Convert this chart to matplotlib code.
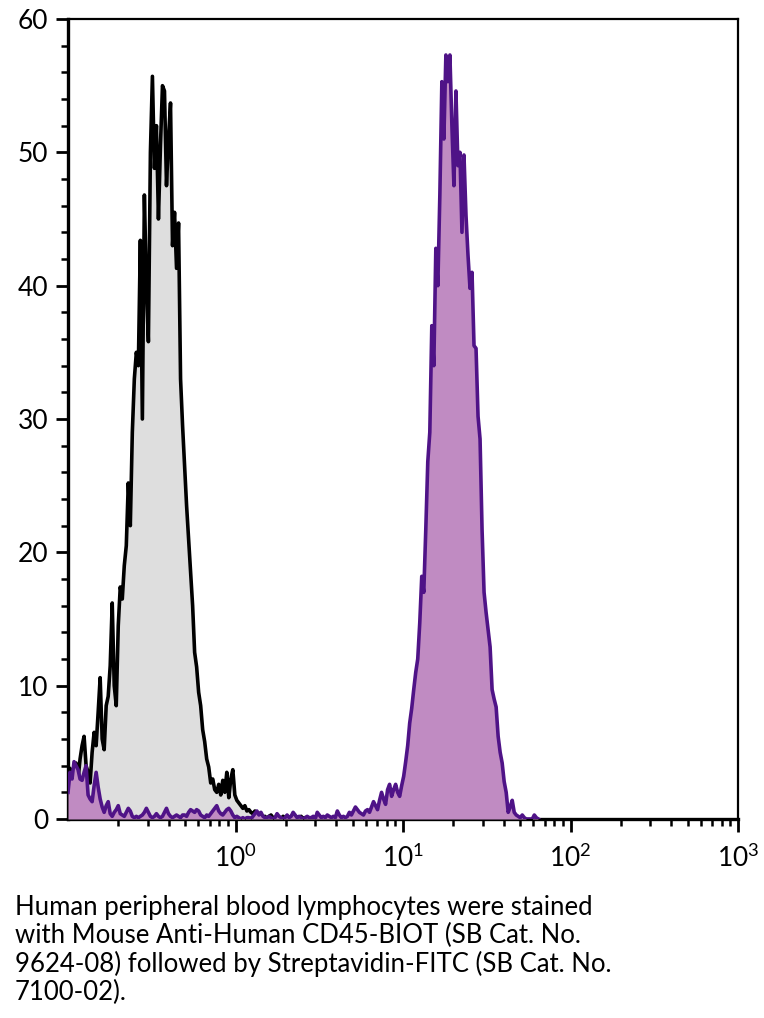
import numpy as np
import matplotlib
matplotlib.use('Agg')
import matplotlib.pyplot as plt
from matplotlib.ticker import FixedLocator, NullFormatter

plt.rcParams['font.family'] = ['Lato', 'DejaVu Sans']
plt.rcParams['mathtext.fontset'] = 'custom'
plt.rcParams['mathtext.rm'] = 'Lato'
plt.rcParams['mathtext.it'] = 'Lato'

# histogram channels: log10 position of first channel and channel width (decades)
log_start = -1.0
log_step = 0.012

# isotype control (black outline, grey fill)
control_counts = [
    3.0, 3.8, 2.5, 3.5, 4.2, 3.0, 4.5, 5.5, 6.2, 4.0,
    3.5, 2.7, 5.0, 6.5, 5.5, 8.0, 10.6, 6.0, 5.2, 8.5,
    9.2, 11.5, 16.2, 10.0, 8.5, 14.5, 17.4, 16.5, 19.0, 20.5,
    25.2, 22.0, 29.0, 33.0, 35.0, 34.0, 43.4, 30.0, 46.8, 40.0,
    35.8, 50.0, 55.7, 48.8, 52.0, 45.0, 50.5, 55.0, 54.6, 47.5,
    51.0, 53.7, 43.0, 45.5, 41.3, 44.7, 33.0, 29.5, 26.5, 23.5,
    21.0, 18.5, 16.0, 12.5, 11.4, 9.5, 8.5, 6.7, 5.8, 4.5,
    3.9, 2.7, 3.0, 2.2, 2.0, 2.6, 1.8, 2.9, 2.0, 3.5,
    1.6, 3.0, 3.7, 1.8, 1.4, 1.2, 1.0, 0.8, 1.0, 0.6,
    0.7, 0.5, 0.4, 0.6, 0.2, 0.4, 0.3, 0.1, 0.2, 0.0,
    0.2, 0.3, 0.1, 0.0, 0.3, 0.1, 0.0, 0.2, 0.1, 0.0,
    0.1, 0.2, 0.0, 0.1, 0.0, 0.1, 0.2, 0.0, 0.1, 0.0,
    0.0, 0.0,
]

# CD45 stained (purple)
cd45_counts = [
    2.0, 3.5, 3.0, 4.3, 4.0, 3.7, 3.0, 2.9, 3.5, 4.0,
    1.8, 1.5, 1.3, 2.5, 3.5, 2.4, 1.5, 0.9, 0.5, 1.0,
    1.3, 0.4, 0.2, 0.5, 0.7, 1.0, 0.4, 0.3, 0.2, 0.5,
    0.8, 0.6, 0.2, 0.1, 0.2, 0.1, 0.2, 0.3, 0.5, 0.8,
    0.5, 0.2, 0.1, 0.2, 0.4, 0.2, 0.1, 0.2, 0.5, 0.8,
    0.4, 0.2, 0.1, 0.2, 0.3, 0.2, 0.1, 0.3, 0.3, 0.2,
    0.5, 0.7, 0.6, 0.5, 0.7, 0.6, 0.3, 0.2, 0.1, 0.3,
    0.2, 0.4, 0.6, 0.8, 1.0, 0.6, 0.4, 0.3, 0.5, 0.7,
    0.8, 0.6, 0.3, 0.1, 0.2, 0.1, 0.0, 0.1, 0.0, 0.1,
    0.1, 0.0, 0.2, 0.4, 0.6, 0.3, 0.5, 0.2, 0.1, 0.1,
    0.2, 0.1, 0.0, 0.1, 0.4, 0.2, 0.1, 0.0, 0.1, 0.3,
    0.1, 0.2, 0.5, 0.3, 0.1, 0.2, 0.1, 0.0, 0.1, 0.2,
    0.1, 0.1, 0.2, 0.0, 0.5, 0.3, 0.1, 0.2, 0.1, 0.3,
    0.2, 0.1, 0.2, 0.1, 0.6, 0.3, 0.1, 0.2, 0.1, 0.2,
    0.5, 0.3, 0.6, 0.9, 0.7, 0.5, 0.4, 0.3, 0.6, 0.7,
    0.5, 0.9, 1.3, 1.0, 0.7, 1.4, 2.0, 1.5, 1.1, 2.2,
    2.6, 1.7, 2.2, 2.6, 2.0, 1.7, 2.5, 3.2, 4.3, 5.5,
    7.2, 8.3, 9.7, 11.0, 12.0, 14.7, 18.2, 17.0, 21.7, 26.8,
    29.0, 37.0, 34.0, 42.8, 40.0, 46.8, 55.3, 51.0, 57.3, 55.3,
    57.3, 52.0, 47.5, 54.6, 49.0, 50.0, 44.0, 49.8, 45.3, 42.3,
    39.8, 41.0, 35.5, 35.3, 30.2, 28.5, 21.7, 17.0, 15.5, 14.2,
    12.9, 9.7, 9.0, 8.4, 6.2, 5.0, 4.2, 2.8, 2.0, 0.5,
    0.9, 1.4, 0.5, 0.3, 0.2, 0.1, 0.3, 0.1, 0.0, 0.0,
    0.0, 0.0, 0.3, 0.1, 0.0,
]

caption = ("Human peripheral blood lymphocytes were stained\n"
           "with Mouse Anti-Human CD45-BIOT (SB Cat. No.\n"
           "9624-08) followed by Streptavidin-FITC (SB Cat. No.\n"
           "7100-02).")

x_ctrl = 10 ** (log_start + log_step * np.arange(len(control_counts)))
x_cd45 = 10 ** (log_start + log_step * np.arange(len(cd45_counts)))

fig = plt.figure(figsize=(7.64, 10.18), dpi=100)
ax = fig.add_axes([68 / 764, 1 - 819 / 1018, 670 / 764, 800 / 1018])

ax.fill_between(x_ctrl, control_counts, 0, color='#dedede', lw=0, zorder=1)
ax.plot(x_ctrl, control_counts, color='black', lw=2.6, zorder=2)
ax.fill_between(x_cd45, cd45_counts, 0, color='#c08bc2', lw=0, zorder=3)
ax.plot(x_cd45, cd45_counts, color='#4f1387', lw=2.6, zorder=4)

ax.set_xscale('log')
ax.set_xlim(0.1, 1000)
ax.set_ylim(0, 60)

ax.xaxis.set_major_locator(FixedLocator([1, 10, 100, 1000]))
minors = [m * 10.0 ** d for d in range(-1, 3) for m in range(2, 10)]
ax.xaxis.set_minor_locator(FixedLocator(minors))
ax.xaxis.set_minor_formatter(NullFormatter())
ax.set_xticklabels([r'$10^{0}$', r'$10^{1}$', r'$10^{2}$', r'$10^{3}$'])

ax.set_yticks(range(0, 61, 10))
ax.set_yticks(range(0, 61, 2), minor=True)

ax.tick_params(axis='both', which='major', direction='out', length=9, width=2,
               labelsize=19, colors='black')
ax.tick_params(axis='both', which='minor', direction='out', length=5, width=1.8)
ax.tick_params(axis='x', which='major', pad=9)
ax.tick_params(axis='y', which='major', pad=5)

for side in ['left', 'bottom']:
    ax.spines[side].set_linewidth(2.4)
for side in ['top', 'right']:
    ax.spines[side].set_linewidth(1.6)

fig.text(15 / 764, 1 - 895 / 1018, caption, fontsize=18.5, va='top', ha='left',
         linespacing=1.15)

fig.savefig('out.png', dpi=100)
